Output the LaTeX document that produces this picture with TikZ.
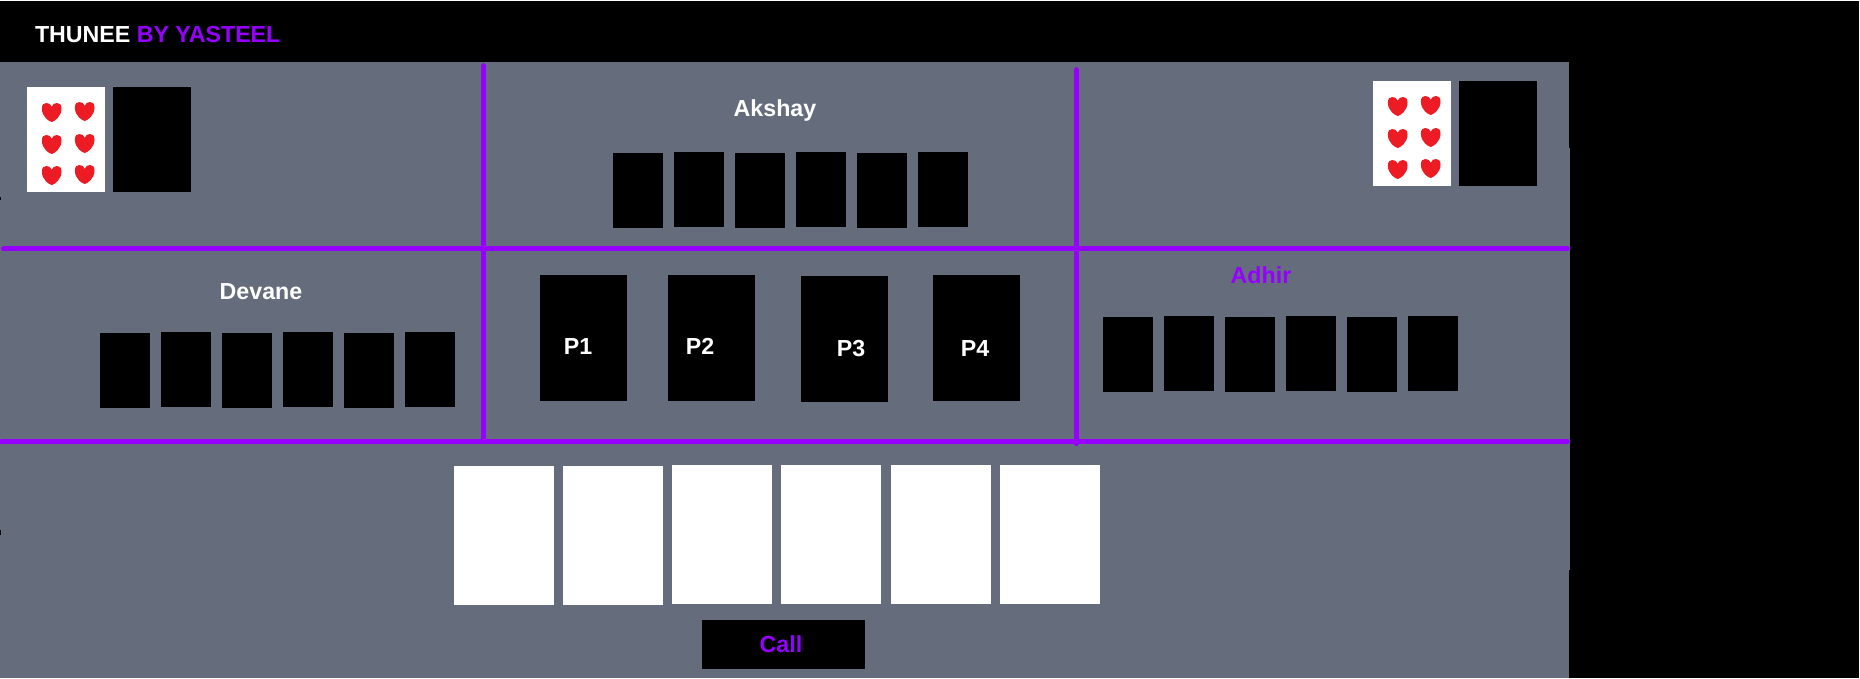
\documentclass[tikz,border=0pt]{standalone}
\usepackage{fontspec}
\setmainfont{Liberation Sans}
\definecolor{felt}{HTML}{656C7B}
\definecolor{violet}{HTML}{9600FF}
\definecolor{heartred}{HTML}{ED1C24}
\tikzset{
  x=1pt,y=-1pt,
  blackcard/.style={fill=black,draw=none,inner sep=0pt,outer sep=0pt,minimum width=#1},
  blackcard/.default=50pt,
  handcard/.style={blackcard=50pt,minimum height=75pt},
  playcard/.style={blackcard=87pt,minimum height=126pt},
  whitecard/.style={fill=white,draw=none,inner sep=0pt,outer sep=0pt,minimum width=100pt,minimum height=139pt},
  sidecard/.style={inner sep=0pt,outer sep=0pt,minimum width=78pt,minimum height=105pt},
  label/.style={inner sep=0pt,outer sep=0pt,anchor=base,font=\fontsize{23.2}{26}\selectfont\bfseries},
  divider/.style={draw=violet,line width=5pt,line cap=round},
  heartmark/.style={fill=heartred,draw=none},
}
\newcommand{\hearticon}[2]{%
  \fill[heartmark,shift={(#1,#2)}]
    (0,19) .. controls (-2.5,18.5) and (-9.8,14) .. (-9.8,5.5)
    .. controls (-9.8,1.5) and (-7.8,0) .. (-5.4,0)
    .. controls (-2.8,0) and (-0.8,1.2) .. (0,3.8)
    .. controls (0.8,1.2) and (2.8,0) .. (5.4,0)
    .. controls (7.8,0) and (9.8,1.5) .. (9.8,5.5)
    .. controls (9.8,14) and (2.5,18.5) .. (0,19) -- cycle;}
\newcommand{\heartset}[2]{%
  \begin{scope}[shift={(#1,#2)}]
    \hearticon{51.7}{103}\hearticon{84.7}{102}
    \hearticon{51.7}{135}\hearticon{84.7}{134}
    \hearticon{51.7}{166}\hearticon{84.7}{165}
  \end{scope}}
\begin{document}
\begin{tikzpicture}
\useasboundingbox (0,0) rectangle (1860,678);
% page and panels
\fill[white] (0,0) rectangle (1860,678);
\fill[black] (0,1) rectangle (1859,678);
\fill[felt] (0,62) rectangle (1569,678);
\fill[felt] (1569,148) rectangle (1570,570);
\fill[black] (0,197) rectangle (1,200);
\fill[black] (0,530) rectangle (1,535);
% title
\node[label,anchor=base west,text=white] (title) at (35,42.6) {THUNEE \textcolor{violet}{BY YASTEEL}};
% top-left side cards
\node[sidecard,fill=white] (leftpile) at (66,139.5) {};
\node[sidecard,fill=black] (leftback) at (152,139.5) {};
\heartset{0}{0}
% top-right side cards
\node[sidecard,fill=white] (rightpile) at (1412,133.5) {};
\node[sidecard,fill=black] (rightback) at (1498,133.5) {};
\heartset{1346}{-6}
\begin{scope}[yshift=-0.6pt]
% dividers
\draw[divider] (483.7,65) -- (483.7,441);
\draw[divider] (1076.3,69) -- (1076.3,443);
\draw[divider] (3.5,248.3) -- (1567.5,248.3);
\draw[divider] (1.5,441) -- (1567.5,441);
% own hand
\node[whitecard] (w1) at (504,534.5) {};
\node[whitecard] (w2) at (613,534.5) {};
\node[whitecard] (w3) at (722,533.5) {};
\node[whitecard] (w4) at (831,533.5) {};
\node[whitecard] (w5) at (941,533.5) {};
\node[whitecard] (w6) at (1050,533.5) {};
% call button
\node[fill=black,inner sep=0pt,outer sep=0pt,minimum width=163pt,minimum height=49pt] (callbox) at (783.5,643.5) {};
\node[label,text=violet] (call) at (781,652) {Call};
% player names
\node[label,text=white] (akshay) at (775,115.7) {Akshay};
\node[label,text=white] (devane) at (261,299) {Devane};
\node[label,text=violet] (adhir) at (1261,283.3) {Adhir};
\end{scope}
\begin{scope}[yshift=-0.1pt]
% Akshay hand
\node[handcard] (a1) at (638,190.5) {};
\node[handcard] (a2) at (699,189.5) {};
\node[handcard] (a3) at (760,190.5) {};
\node[handcard] (a4) at (821,189.5) {};
\node[handcard] (a5) at (882,190.5) {};
\node[handcard] (a6) at (943,189.5) {};
% Devane hand
\node[handcard] (d1) at (125,370.5) {};
\node[handcard] (d2) at (186,369.5) {};
\node[handcard] (d3) at (247,370.5) {};
\node[handcard] (d4) at (308,369.5) {};
\node[handcard] (d5) at (369,370.5) {};
\node[handcard] (d6) at (430,369.5) {};
% Adhir hand
\node[handcard] (h1) at (1128,354.5) {};
\node[handcard] (h2) at (1189,353.5) {};
\node[handcard] (h3) at (1250,354.5) {};
\node[handcard] (h4) at (1311,353.5) {};
\node[handcard] (h5) at (1372,354.5) {};
\node[handcard] (h6) at (1433,353.5) {};
% played cards
\node[playcard] (p1) at (583.5,338) {};
\node[playcard] (p2) at (711.5,338) {};
\node[playcard] (p3) at (844.5,339) {};
\node[playcard] (p4) at (976.5,338) {};
\node[label,text=white] (p1t) at (578,354) {P1};
\node[label,text=white] (p2t) at (700,354) {P2};
\node[label,text=white] (p3t) at (851,356) {P3};
\node[label,text=white] (p4t) at (975,356) {P4};
\end{scope}
\end{tikzpicture}
\end{document}
